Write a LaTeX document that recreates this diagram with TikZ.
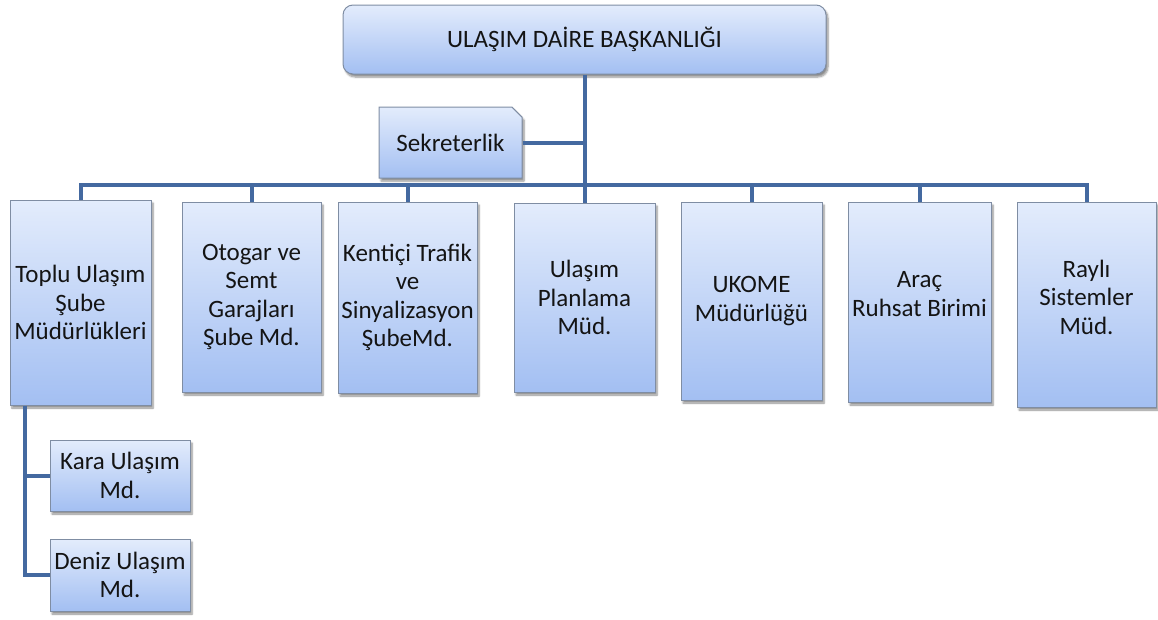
\documentclass[tikz,border=0pt]{standalone}
\usepackage{fontspec}
\setmainfont{Carlito}
\usetikzlibrary{shapes.misc,shadows.blur}
\definecolor{linec}{HTML}{4469A0}
\definecolor{boxtop}{HTML}{E3ECFC}
\definecolor{boxbot}{HTML}{A3BFF2}
\definecolor{boxborder}{HTML}{7F8DA3}
\definecolor{txt}{HTML}{141414}
\begin{document}
\begin{tikzpicture}[x=1pt,y=-1pt,
  unit/.style={draw=boxborder, line width=1pt, top color=boxtop, bottom color=boxbot,
    align=center, font=\fontsize{25}{28.5}\selectfont, text=txt, inner sep=0pt,
    blur shadow={shadow xshift=2pt, shadow yshift=-3pt, shadow opacity=45, shadow blur steps=6}},
  lbl/.style={align=center, font=\fontsize{25}{28.5}\selectfont, text=txt, inner sep=0pt},
  conn/.style={draw=linec, line width=4pt}]
\useasboundingbox (0,0) rectangle (1158,619);

\node[unit, minimum width=483pt, minimum height=69pt, rounded corners=10pt] (top) at (584.5,39.5) {ULAŞIM DAİRE BAŞKANLIĞI};
\node[unit, chamfered rectangle, chamfered rectangle corners=north east, chamfered rectangle xsep=7pt,
  minimum width=143pt, minimum height=71pt] (sek) at (450.5,142.5) {Sekreterlik};

\node[unit, minimum width=141pt, minimum height=205pt] (toplu) at (80.5,302.5) {Toplu Ulaşım\\Şube\\Müdürlükleri};
\node[unit, minimum width=139pt, minimum height=190pt] (otogar) at (251.5,297) {Otogar ve\\Semt\\Garajları\\Şube Md.};
\node[unit, minimum width=139pt, minimum height=191pt] (kent) at (407.5,297.5) {Kentiçi Trafik\\ve\\Sinyalizasyon\\ŞubeMd.};
\node[unit, minimum width=141pt, minimum height=189pt] (plan) at (584.5,297.5) {Ulaşım\\Planlama\\Müd.};
\node[unit, minimum width=141pt, minimum height=198pt] (ukome) at (751.5,301) {UKOME\\Müdürlüğü};
\node[unit, minimum width=143pt, minimum height=200pt] (arac) at (919.5,302) {};
\node[lbl] (aractxt) at (919.5,294) {Araç\\Ruhsat Birimi};
\node[unit, minimum width=139pt, minimum height=205pt] (rayli) at (1086.5,304.5) {};
\node[lbl] (raylitxt) at (1086.5,297) {Raylı\\Sistemler\\Müd.};

\node[unit, minimum width=140pt, minimum height=71pt] (kara) at (120,475.5) {Kara Ulaşım\\Md.};
\node[unit, minimum width=140pt, minimum height=72pt] (deniz) at (120,575) {Deniz Ulaşım\\Md.};

\coordinate (bar) at (0,185);
\draw[conn] (top.south) -- (top.south |- bar);
\draw[conn] (sek.east) -- (sek.east -| top.south);
\draw[conn] (toplu.north) -- (toplu.north |- bar) -- (rayli.north |- bar) -- (rayli.north);
\foreach \n in {otogar,kent,plan,ukome,arac}
  \draw[conn] (\n.north) -- (\n.north |- bar);
\coordinate (subtop) at ([xshift=15pt]toplu.south west);
\draw[conn] (subtop) |- (deniz.west);
\draw[conn] (kara.west) -- (kara.west -| subtop);
\end{tikzpicture}
\end{document}
